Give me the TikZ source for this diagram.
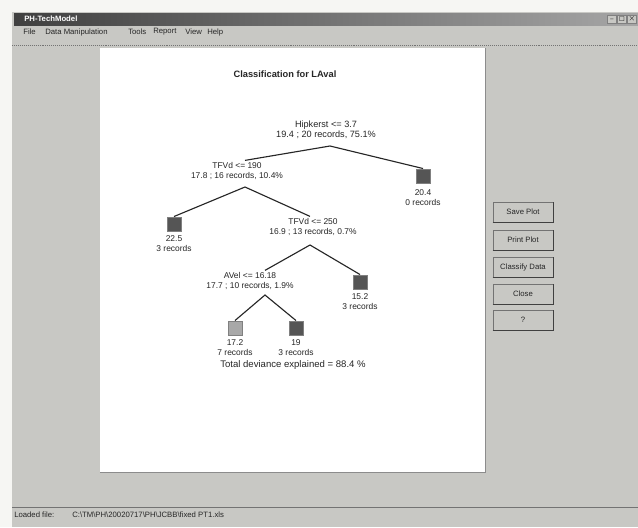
\documentclass[tikz,border=0pt]{standalone}
\usepackage{amssymb}
\usepackage{fontspec}
\setmainfont{Liberation Sans}
\usetikzlibrary{positioning}

\definecolor{scangray}{HTML}{C8C8C4}
\definecolor{paper}{HTML}{F6F6F3}
\definecolor{inkdark}{HTML}{262626}
\definecolor{leafdark}{HTML}{555555}
\definecolor{leaflight}{HTML}{A8A8A8}

\tikzset{
  txt/.style={font=\fontsize{6}{7}\selectfont, text=inkdark, align=center, inner sep=0pt, outer sep=1.5pt},
  menu/.style={font=\fontsize{5.5}{6}\selectfont, text=inkdark, inner sep=0pt, anchor=west},
  leaf/.style={draw=black!50, fill=leafdark, minimum size=3.6mm, inner sep=0pt},
  btn/.style={draw=black!55, fill=scangray, minimum width=15mm, minimum height=5mm,
    font=\fontsize{5.5}{6}\selectfont, text=inkdark, inner sep=0pt},
  branch/.style={draw=inkdark, line width=0.8pt}
}

\begin{document}
\begin{tikzpicture}[x=0.25mm, y=-0.25mm]
  \useasboundingbox (0,0) rectangle (638,527);
  \fill[paper] (0,0) rectangle (638,527);

  % Window frame
  \fill[scangray] (12,12) rectangle (638,527);
  \shade[left color=black!75, right color=black!35] (14,13) rectangle (638,25);
  \node[menu, text=white, font=\fontsize{5.5}{6}\selectfont\bfseries] (title) at (24,19) {PH-TechModel};
  \foreach \x/\sym [count=\i] in {612/\_, 622/$\square$, 632/$\times$} {
      \node[draw=black!50, fill=scangray, minimum width=2.2mm, minimum height=2mm, inner sep=0pt,
        font=\fontsize{4}{4}\selectfont] (win\i) at (\x,19) {\sym};
    }

  % Menu bar
  \foreach \x/\item [count=\i] in {23/File, 45/Data Manipulation, 128/Tools, 153/Report, 185/View, 207/Help} {
      \node[menu] (menu\i) at (\x,32) {\item};
    }
  \draw[black!55, densely dotted] (12,45) -- (638,45);

  % Plot panel
  \fill[white] (100,48) rectangle (485,472);
  \draw[black!45] (100,472) -- (485,472) -- (485,48);

  % Buttons
  \foreach \y/\label [count=\i] in {212/Save Plot, 240/Print Plot, 267/Classify Data, 294/Close, 320/?} {
      \node[btn] (btn\i) at (523,\y) {\label};
      \draw[black!75, line width=0.6pt] (btn\i.south west) -- (btn\i.south east) -- (btn\i.north east);
    }

  % Status bar
  \draw[black!55] (12,507) -- (638,507);
  \node[menu] (status) at (14,515) {Loaded file:};
  \node[menu] (path) at (72,515) {C:\textbackslash TM\textbackslash PH\textbackslash 20020717\textbackslash PH\textbackslash JCBB\textbackslash fixed PT1.xls};

  % Tree
  \node[txt, font=\fontsize{6.6}{7}\selectfont\bfseries] (plottitle) at (285,74) {Classification for LAval};

  \node[txt, font=\fontsize{6.5}{7.2}\selectfont] (root) at (326,130) {Hipkerst <= 3.7\\19.4 ; 20 records, 75.1\%};
  \coordinate (rootsplit) at (330,146);
  \node[leaf] (leafA) at (423,176) {};
  \node[txt, below=1mm of leafA] (leafAlbl) {20.4\\0 records};

  \node[txt] (tfva) at (237,171) {TFVd <= 190\\17.8 ; 16 records, 10.4\%};
  \coordinate (tfvasplit) at (245,187);
  \node[leaf] (leafB) at (174,224) {};
  \node[txt, below=0.6mm of leafB] (leafBlbl) {22.5\\3 records};

  \node[txt] (tfvb) at (313,227) {TFVd <= 250\\16.9 ; 13 records, 0.7\%};
  \coordinate (tfvbsplit) at (310,245);
  \node[leaf] (leafC) at (360,282) {};
  \node[txt, below=0.6mm of leafC] (leafClbl) {15.2\\3 records};

  \node[txt] (avel) at (250,281) {AVel <= 16.18\\17.7 ; 10 records, 1.9\%};
  \coordinate (avelsplit) at (265,295);
  \node[leaf, fill=leaflight] (leafD) at (235,328) {};
  \node[txt, below=0.6mm of leafD] (leafDlbl) {17.2\\7 records};
  \node[leaf] (leafE) at (296,328) {};
  \node[txt, below=0.6mm of leafE] (leafElbl) {19\\3 records};

  \draw[branch] (tfva.north -| tfvasplit) -- (rootsplit) -- (leafA.north);
  \draw[branch] (leafB.north) -- (tfvasplit) -- (tfvb.north -| tfvbsplit);
  \draw[branch] (avel.north -| avelsplit) -- (tfvbsplit) -- (leafC.north);
  \draw[branch] (leafD.north) -- (avelsplit) -- (leafE.north);

  \node[txt, font=\fontsize{6.8}{8}\selectfont] (deviance) at (293,365) {Total deviance explained = 88.4 \%};
\end{tikzpicture}
\end{document}
